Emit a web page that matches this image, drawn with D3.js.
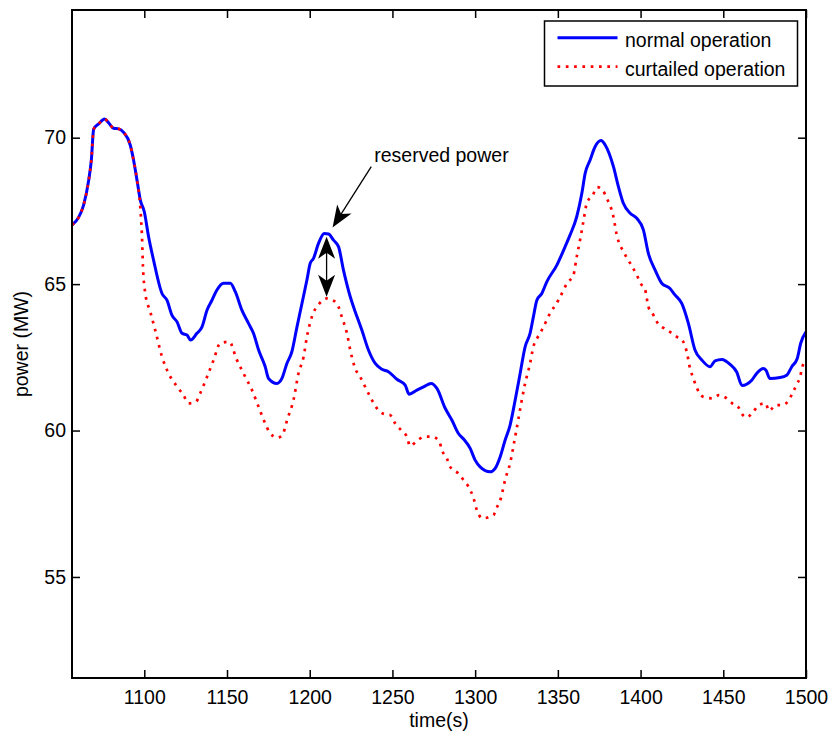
<!DOCTYPE html>
<html>
<head>
<meta charset="utf-8">
<script src="https://cdnjs.cloudflare.com/ajax/libs/d3/7.8.5/d3.min.js"></script>
<style>
  body { margin: 0; background: #fff; }
  svg { display: block; font-family: Arial, "Liberation Sans", sans-serif; }
</style>
</head>
<body>
<svg id="chart" width="831" height="738"></svg>
<script>
// shared start of both curves (curtailment begins around t = 1097 s)
var timeShared = [1056.3, 1060.3, 1063.3, 1066.4, 1068, 1069.4, 1072.4, 1076, 1078.4, 1081.5, 1084.5, 1087.5, 1091.5, 1093.5, 1095.6];
var powerShared = [67.02, 67.28, 67.70, 68.55, 69.24, 70.29, 70.47, 70.64, 70.51, 70.32, 70.30, 70.18, 69.75, 69.24, 68.55];

var timeNormal = [1097.6, 1100, 1102.6, 1105.6, 1110.7, 1113.7, 1116.7, 1119.8, 1122.8, 1125.8, 1128, 1131.8, 1134.9, 1137.9, 1140.9, 1143.9, 1147.9, 1152, 1155, 1159, 1163, 1166, 1169.1, 1173.1, 1175.1, 1180.2, 1183.2, 1186.2, 1189.2, 1192.3, 1195.3, 1198.3, 1200.3, 1202.3, 1205.3, 1208.8, 1211.4, 1214.4, 1217.4, 1220.4, 1224.5, 1227.5, 1231.5, 1235.5, 1239.6, 1243.6, 1247.6, 1252.7, 1257.7, 1260.1, 1264.8, 1268.8, 1273.4, 1276.9, 1281.9, 1285.9, 1289.9, 1293, 1297, 1300, 1303, 1309.1, 1312.1, 1315.1, 1318.1, 1321.1, 1324.2, 1327.2, 1330.2, 1333.2, 1335.2, 1337.3, 1340.3, 1343.3, 1349.4, 1354.4, 1357.4, 1361.4, 1364.5, 1366.5, 1369.5, 1372.5, 1376.1, 1378.6, 1383.6, 1386.6, 1389.6, 1393.7, 1397.7, 1401.7, 1404.7, 1408.8, 1412.8, 1417.8, 1420.8, 1424.9, 1428.9, 1432.9, 1437, 1442, 1445, 1449.1, 1454.1, 1458.1, 1461.3, 1467.2, 1470.2, 1474.2, 1475.8, 1478.2, 1484.3, 1488.3, 1491.4, 1494.7, 1496.8, 1500];
var powerNormal = [67.87, 67.47, 66.62, 65.82, 64.68, 64.45, 63.94, 63.71, 63.32, 63.26, 63.09, 63.32, 63.54, 64.11, 64.45, 64.80, 65.03, 65.03, 64.74, 64.11, 63.66, 63.32, 62.75, 62.18, 61.78, 61.61, 61.78, 62.29, 62.69, 63.54, 64.34, 65.14, 65.71, 65.88, 66.39, 66.73, 66.71, 66.50, 66.28, 65.48, 64.57, 64.06, 63.43, 62.75, 62.29, 62.09, 62.01, 61.75, 61.55, 61.24, 61.38, 61.49, 61.61, 61.44, 60.76, 60.36, 59.90, 59.71, 59.39, 58.99, 58.76, 58.59, 58.71, 59.10, 59.67, 60.18, 61.04, 61.95, 62.86, 63.32, 63.88, 64.45, 64.68, 65.08, 65.65, 66.28, 66.68, 67.30, 68.10, 68.78, 69.24, 69.69, 69.90, 69.75, 69.01, 68.33, 67.76, 67.42, 67.25, 66.85, 66.05, 65.48, 65.03, 64.85, 64.63, 64.34, 63.66, 62.75, 62.41, 62.18, 62.38, 62.43, 62.26, 62.00, 61.54, 61.72, 61.95, 62.12, 62.06, 61.78, 61.81, 61.89, 62.18, 62.46, 62.98, 63.37];

var timeCurtailed = [1097.6, 1098.6, 1099.2, 1100.6, 1103.6, 1106.6, 1110.7, 1114.7, 1120.7, 1123.7, 1126.8, 1131.2, 1133.8, 1137.9, 1141.9, 1145.9, 1151.5, 1155.6, 1160, 1165.1, 1169.1, 1173.1, 1175.5, 1180.2, 1183.2, 1186.6, 1190.2, 1193.2, 1196.3, 1198.3, 1201.3, 1205.9, 1210.4, 1214, 1217.4, 1219.4, 1222.5, 1224.5, 1227.5, 1230.5, 1235.5, 1240.6, 1245, 1248.6, 1251.7, 1255.3, 1258.7, 1260.7, 1264.8, 1269.4, 1273.8, 1278.2, 1279.9, 1282.9, 1284.9, 1289.9, 1293, 1296, 1299, 1301.4, 1304.7, 1308.6, 1311.1, 1313.1, 1315.5, 1318.1, 1321.1, 1324.2, 1326.2, 1328.2, 1330.2, 1333.2, 1335.2, 1337.9, 1340.3, 1345.3, 1350.3, 1355.8, 1359.4, 1361.4, 1363.4, 1365.4, 1367.5, 1371.1, 1373.9, 1376.6, 1379.6, 1383.6, 1385.6, 1389.6, 1392.6, 1397.7, 1400.3, 1402.7, 1404.7, 1407.8, 1410.4, 1414.2, 1418.2, 1422.4, 1425.8, 1427.9, 1429.9, 1431.9, 1433.9, 1437.9, 1443, 1447.4, 1451.5, 1455.4, 1459, 1461.5, 1464.1, 1468.1, 1471.5, 1475.6, 1477.6, 1481.8, 1485.3, 1489.3, 1491.7, 1494.4, 1496.4, 1497.8, 1500];
var powerCurtailed = [67.60, 66.62, 65.59, 64.68, 64.06, 63.43, 62.52, 61.95, 61.44, 61.21, 60.93, 60.98, 61.27, 61.83, 62.41, 62.98, 63.03, 62.46, 61.95, 61.38, 60.81, 60.24, 59.96, 59.76, 59.82, 60.41, 61.04, 61.95, 62.52, 63.20, 63.88, 64.34, 64.51, 64.45, 64.23, 63.88, 63.32, 62.75, 62.12, 61.83, 61.27, 60.76, 60.56, 60.53, 60.24, 60.01, 59.79, 59.47, 59.65, 59.79, 59.79, 59.65, 59.33, 59.05, 58.76, 58.53, 58.31, 58.08, 57.70, 57.22, 57.00, 57.05, 57.11, 57.37, 57.68, 58.31, 58.88, 59.79, 60.41, 61.04, 61.61, 62.29, 62.86, 63.20, 63.43, 64.00, 64.45, 65.05, 65.31, 65.93, 66.50, 67.13, 67.76, 68.04, 68.31, 68.24, 67.93, 67.30, 66.68, 66.11, 65.82, 65.31, 65.00, 64.82, 64.23, 63.94, 63.66, 63.49, 63.35, 63.18, 63.03, 62.69, 62.12, 61.78, 61.47, 61.15, 61.10, 61.21, 61.12, 60.93, 60.81, 60.55, 60.45, 60.64, 60.87, 60.93, 60.67, 60.87, 60.87, 61.00, 61.27, 61.57, 61.83, 62.18, 62.43];

var xTicks = [1100, 1150, 1200, 1250, 1300, 1350, 1400, 1450, 1500];
var yTicks = [55, 60, 65, 70];
var seriesNames = ["normal operation", "curtailed operation"];
var seriesColors = ["#0000ff", "#ff0000"];

// annotation, in data units
var reservedText = "reserved power";
var reservedTextAt = [1239, 69.17];
var reservedPointerFrom = [1237.2, 69.01];
var reservedPointerTo = [1213.8, 66.93];
var reservedSpan = [1210.2, 66.62, 64.57]; // time, top, bottom

var settings = {
    width: 831,
    height: 738,
    left: 72,
    top: 10,
    right: 806,
    bottom: 678,
    fontSize: 19.5,
    tickSize: 8
};

var svg = d3.select("#chart");

var x = d3.scaleLinear().domain([1056.3, 1500]).range([settings.left, settings.right]);
var y = d3.scaleLinear().domain([51.55, 74.36]).range([settings.bottom, settings.top]);

function zip(ts, vs) {
    return ts.map((t, i) => ({ t: t, v: vs[i] }));
}

var shared = zip(timeShared, powerShared);
var normal = shared.concat(zip(timeNormal, powerNormal));
var curtailed = shared.concat(zip(timeCurtailed, powerCurtailed));

var line = d3.line()
    .x(d => x(d.t))
    .y(d => y(d.v))
    .curve(d3.curveMonotoneX);

var plot = svg.append("g");

plot.append("path")
    .datum(normal)
    .attr("d", line)
    .attr("fill", "none")
    .attr("stroke", seriesColors[0])
    .attr("stroke-width", 3)
    .attr("stroke-linejoin", "round");

plot.append("path")
    .datum(curtailed)
    .attr("d", line)
    .attr("fill", "none")
    .attr("stroke", seriesColors[1])
    .attr("stroke-width", 2.7)
    .attr("stroke-dasharray", "2.7 5.6");

// axes: MATLAB style box with inward ticks
function styleAxis(g) {
    g.select(".domain").remove();
    g.selectAll(".tick line").attr("stroke", "#000").attr("stroke-width", 1.5);
    g.selectAll("text")
        .attr("font-size", settings.fontSize)
        .attr("font-family", "Arial, 'Liberation Sans', sans-serif")
        .attr("fill", "#000");
}

svg.append("g")
    .attr("transform", `translate(0,${settings.bottom})`)
    .call(d3.axisBottom(x).tickValues(xTicks).tickSizeInner(-settings.tickSize).tickSizeOuter(0).tickPadding(12.5).tickFormat(d3.format("d")))
    .call(styleAxis);

svg.append("g")
    .attr("transform", `translate(0,${settings.top})`)
    .call(d3.axisTop(x).tickValues(xTicks).tickSizeInner(-settings.tickSize).tickSizeOuter(0).tickFormat(""))
    .call(styleAxis);

svg.append("g")
    .attr("transform", `translate(${settings.left},0)`)
    .call(d3.axisLeft(y).tickValues(yTicks).tickSizeInner(-settings.tickSize).tickSizeOuter(0).tickPadding(6).tickFormat(d3.format("d")))
    .call(styleAxis);

svg.append("g")
    .attr("transform", `translate(${settings.right},0)`)
    .call(d3.axisRight(y).tickValues(yTicks).tickSizeInner(-settings.tickSize).tickSizeOuter(0).tickFormat(""))
    .call(styleAxis);

svg.append("rect")
    .attr("x", settings.left)
    .attr("y", settings.top)
    .attr("width", settings.right - settings.left)
    .attr("height", settings.bottom - settings.top)
    .attr("fill", "none")
    .attr("stroke", "#000")
    .attr("stroke-width", 2);

// axis labels
svg.append("text")
    .attr("x", (settings.left + settings.right) / 2)
    .attr("y", 727)
    .attr("text-anchor", "middle")
    .attr("font-size", settings.fontSize)
    .text("time(s)");

svg.append("text")
    .attr("transform", `translate(28,${(settings.top + settings.bottom) / 2}) rotate(-90)`)
    .attr("text-anchor", "middle")
    .attr("font-size", settings.fontSize)
    .text("power (MW)");

// arrow heads with notched back, tip at (0,0) pointing right
function arrowHead(g, tipX, tipY, angle) {
    g.append("path")
        .attr("d", "M0,0 L-22,-8.5 L-16,0 L-22,8.5 Z")
        .attr("transform", `translate(${tipX},${tipY}) rotate(${angle})`)
        .attr("fill", "#000");
}

var annot = svg.append("g");

annot.append("text")
    .attr("x", x(reservedTextAt[0]))
    .attr("y", y(reservedTextAt[1]))
    .attr("font-size", settings.fontSize)
    .text(reservedText);

var px1 = x(reservedPointerFrom[0]), py1 = y(reservedPointerFrom[1]);
var px2 = x(reservedPointerTo[0]), py2 = y(reservedPointerTo[1]);
var pAngle = Math.atan2(py2 - py1, px2 - px1) * 180 / Math.PI;
annot.append("line")
    .attr("x1", px1).attr("y1", py1)
    .attr("x2", px2 - 15 * Math.cos(pAngle * Math.PI / 180))
    .attr("y2", py2 - 15 * Math.sin(pAngle * Math.PI / 180))
    .attr("stroke", "#000")
    .attr("stroke-width", 1.3);
arrowHead(annot, px2, py2, pAngle);

var sx = x(reservedSpan[0]);
var sTop = y(reservedSpan[1]);
var sBottom = y(reservedSpan[2]);
annot.append("line")
    .attr("x1", sx).attr("y1", sTop + 15)
    .attr("x2", sx).attr("y2", sBottom - 15)
    .attr("stroke", "#000")
    .attr("stroke-width", 1.3);
arrowHead(annot, sx, sTop, -90);
arrowHead(annot, sx, sBottom, 90);

// legend
var legend = svg.append("g").attr("transform", "translate(544.5,21)");
legend.append("rect")
    .attr("width", 253)
    .attr("height", 65)
    .attr("fill", "#fff")
    .attr("stroke", "#000")
    .attr("stroke-width", 1.5);

var entries = legend.selectAll(".entry")
    .data(seriesNames)
    .enter()
    .append("g")
    .classed("entry", true)
    .attr("transform", (d, i) => `translate(0,${16.7 + i * 29})`);

entries.append("line")
    .attr("x1", 13)
    .attr("x2", 73)
    .attr("stroke", (d, i) => seriesColors[i])
    .attr("stroke-width", (d, i) => i === 0 ? 3 : 2.7)
    .attr("stroke-dasharray", (d, i) => i === 0 ? null : "2.7 5.6");

entries.append("text")
    .attr("x", 80.5)
    .attr("y", 9.5)
    .attr("font-size", settings.fontSize)
    .text(d => d);
</script>
</body>
</html>
